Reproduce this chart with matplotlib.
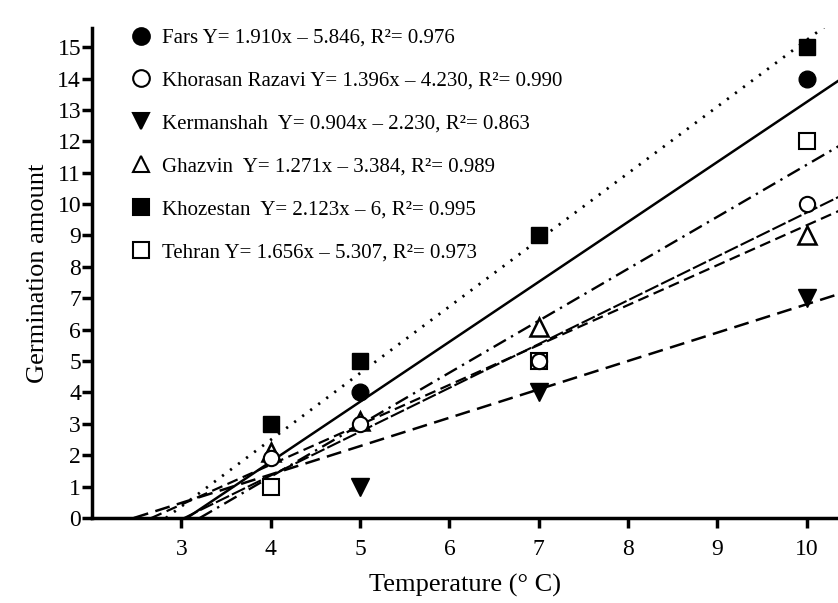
import matplotlib.pyplot as plt
import numpy as np

plt.rcParams['font.family'] = ['Liberation Serif', 'DejaVu Serif']

temps = [4, 5, 7, 10]

# observed germination per province (nan = hidden under other marks)
fars = [np.nan, 4, np.nan, 14]
khorasan = [1.9, 3, 5, 10]
kermanshah = [np.nan, 1, 4, 7]
ghazvin = [2.1, 3.1, 6.1, 9]
khozestan = [3, 5, 9, 15]
tehran = [1, np.nan, 5, 12]

# fitted lines: slope, intercept, r2
fit_fars = (1.910, -5.846, 0.976)
fit_khorasan = (1.396, -4.230, 0.990)
fit_kermanshah = (0.904, -2.230, 0.863)
fit_ghazvin = (1.271, -3.384, 0.989)
fit_khozestan = (2.123, -6, 0.995)
fit_tehran = (1.656, -5.307, 0.973)

x_ticks = [3, 4, 5, 6, 7, 8, 9, 10]
y_ticks = list(range(0, 16))

fig = plt.figure(figsize=(8.38, 6.03), dpi=100)
ax = fig.add_axes([0.11, 0.141, 0.89, 0.812])

x_end = 10.5


def fit_line(fit, style, lw):
    a, b, r2 = fit
    x0 = -b / a
    xs = np.array([x0, x_end])
    ax.plot(xs, a * xs + b, color='black', linestyle=style, linewidth=lw, zorder=2)


fit_line(fit_fars, '-', 1.8)
fit_line(fit_khorasan, (0, (7, 1.5)), 1.5)
fit_line(fit_kermanshah, (0, (6, 3)), 1.8)
fit_line(fit_ghazvin, (0, (5, 2.5)), 1.6)
fit_line(fit_khozestan, (0, (0.8, 2.8)), 2.0)
fit_line(fit_tehran, (0, (6, 2.5, 1, 2.5)), 1.7)

ms = 12
ax.plot(temps, tehran, 's', ms=ms, mfc='white', mec='black', mew=1.5, zorder=3)
ax.plot(temps, kermanshah, 'v', ms=ms + 1, mfc='black', mec='black', zorder=3)
ax.plot(temps, fars, 'o', ms=ms, mfc='black', mec='black', zorder=3)
ax.plot(temps, ghazvin, '^', ms=ms + 1, mfc='white', mec='black', mew=1.8, zorder=3)
ax.plot(temps, khorasan, 'o', ms=ms - 1, mfc='white', mec='black', mew=1.5, zorder=4)
ax.plot(temps, khozestan, 's', ms=ms, mfc='black', mec='black', zorder=3)

# legend (markers only)
labels = [
    ('o', 'black', 'Fars Y= 1.910x \u2013 5.846, R\u00b2= 0.976'),
    ('o', 'white', 'Khorasan Razavi Y= 1.396x \u2013 4.230, R\u00b2= 0.990'),
    ('v', 'black', 'Kermanshah  Y= 0.904x \u2013 2.230, R\u00b2= 0.863'),
    ('^', 'white', 'Ghazvin  Y= 1.271x \u2013 3.384, R\u00b2= 0.989'),
    ('s', 'black', 'Khozestan  Y= 2.123x \u2013 6, R\u00b2= 0.995'),
    ('s', 'white', 'Tehran Y= 1.656x \u2013 5.307, R\u00b2= 0.973'),
]
handles = []
for m, fc, lab in labels:
    h, = ax.plot([], [], m, ms=12, mfc=fc, mec='black', mew=1.5, label=lab)
    handles.append(h)
leg = ax.legend(handles=handles, loc='upper left', bbox_to_anchor=(0.035, 1.03),
                frameon=False, fontsize=15, handlelength=0.8, handletextpad=0.6,
                labelspacing=1.12, borderpad=0.2)

ax.set_xlim(2, 10.35)
ax.set_ylim(0, 15.6)
ax.set_xticks(x_ticks)
ax.set_yticks(y_ticks)
ax.tick_params(axis='both', direction='out', length=7, width=2.5, labelsize=17, pad=1)
ax.tick_params(axis='x', pad=8)
for side in ['top', 'right']:
    ax.spines[side].set_visible(False)
for side in ['left', 'bottom']:
    ax.spines[side].set_linewidth(2.5)

ax.set_xlabel('Temperature (\u00b0 C)', fontsize=19, labelpad=10)
ax.set_ylabel('Germination amount', fontsize=19, labelpad=6)

fig.savefig('out.png', dpi=100)
